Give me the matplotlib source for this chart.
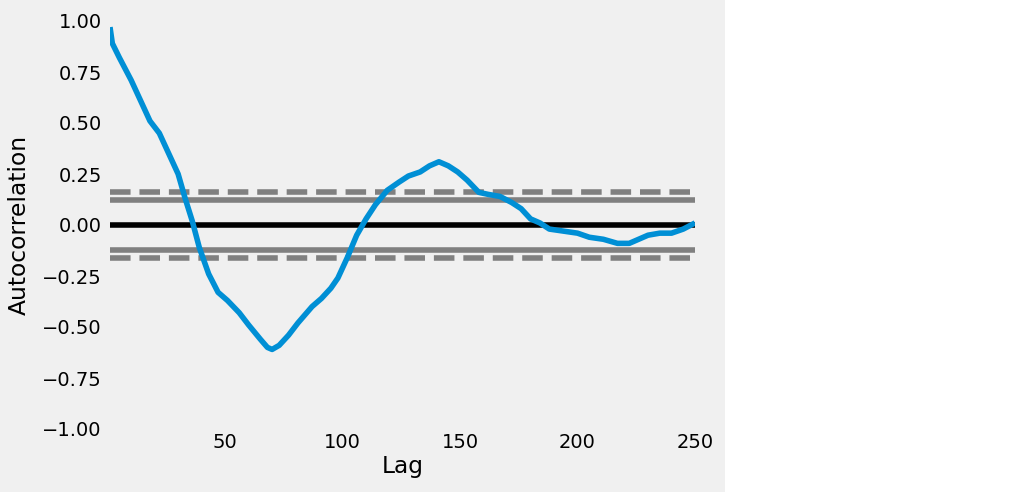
import matplotlib
matplotlib.use("Agg")
import matplotlib.pyplot as plt
import numpy as np
from matplotlib.patches import Rectangle
from matplotlib.ticker import FuncFormatter

plt.style.use("fivethirtyeight")

n_obs = 250
lags = [1, 2, 5, 10, 14, 18, 22, 26, 30, 33, 36, 39, 43, 47, 51, 56, 60, 65, 68, 70,
        73, 77, 81, 87, 91, 95, 98, 102, 106, 110, 114, 119, 124, 128, 133, 137, 141,
        145, 149, 153, 158, 162, 167, 172, 176, 180, 184, 188, 194, 200, 205, 211, 217,
        222, 226, 230, 235, 240, 245, 250]
acf_values = [0.97, 0.89, 0.82, 0.71, 0.61, 0.51, 0.45, 0.35, 0.25, 0.13, 0.02, -0.11,
              -0.24, -0.33, -0.37, -0.43, -0.49, -0.56, -0.60, -0.61, -0.59, -0.54, -0.48,
              -0.40, -0.36, -0.31, -0.26, -0.16, -0.05, 0.03, 0.10, 0.17, 0.21, 0.24, 0.26,
              0.29, 0.31, 0.29, 0.26, 0.22, 0.16, 0.15, 0.14, 0.11, 0.08, 0.03, 0.01, -0.02,
              -0.03, -0.04, -0.06, -0.07, -0.09, -0.09, -0.07, -0.05, -0.04, -0.04, -0.02,
              0.01]

z95 = 1.959963984540054 / np.sqrt(n_obs)
z99 = 2.5758293035489004 / np.sqrt(n_obs)

W, H = 1024, 492
fig = plt.figure(figsize=(W / 100, H / 100), dpi=100, facecolor="white")
fig.patches.append(Rectangle((0, 0), 725 / W, 1, transform=fig.transFigure,
                             facecolor="#f0f0f0", edgecolor="none", zorder=-10))
ax = fig.add_axes([110 / W, (H - 429) / H, (695 - 110) / W, (429 - 21) / H])
ax.set_facecolor("#f0f0f0")

ax.axhline(y=z99, linestyle="--", color="grey", lw=4)
ax.axhline(y=z95, color="grey", lw=4)
ax.axhline(y=0.0, color="black", lw=4)
ax.axhline(y=-z95, color="grey", lw=4)
ax.axhline(y=-z99, linestyle="--", color="grey", lw=4)
ax.plot(lags, acf_values, color="#008fd5", lw=4)

ax.set_xlim(1, n_obs)
ax.set_ylim(-1.0, 1.0)
ax.set_xticks([50, 100, 150, 200, 250])
ax.set_yticks(np.arange(-1.0, 1.01, 0.25))
ax.yaxis.set_major_formatter(FuncFormatter(lambda v, p: f"{v:.2f}".replace("-", "\u2212")))
ax.grid(False)
ax.tick_params(labelsize=14, length=0)
ax.tick_params(axis="x", pad=3)
ax.tick_params(axis="y", pad=6)
ax.set_xlabel("Lag", fontsize=16.8, labelpad=2)
ax.set_ylabel("Autocorrelation", fontsize=16.8, labelpad=8)
for s in ax.spines.values():
    s.set_visible(False)

fig.savefig("out.png", dpi=100, facecolor="white")
